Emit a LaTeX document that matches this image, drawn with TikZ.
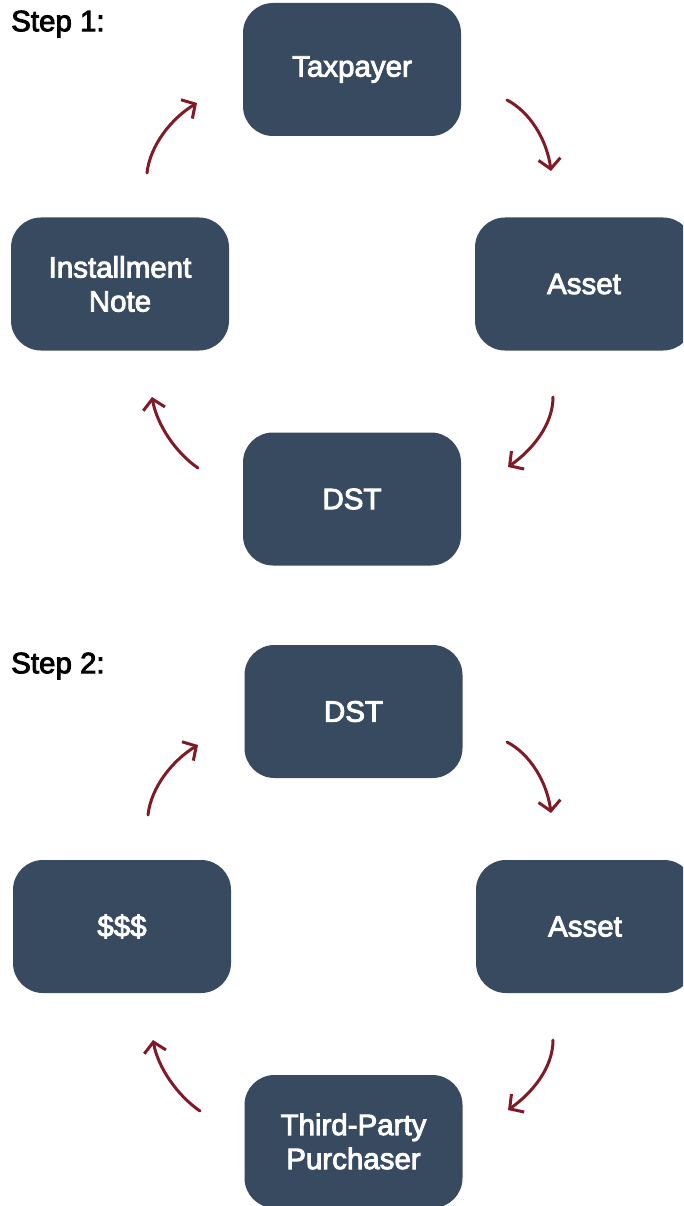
\documentclass[tikz,border=0pt]{standalone}
\usepackage{fontspec}
\setmainfont{Liberation Sans}
\newfontfamily\mediumfont{Liberation Sans}[FakeBold=3]
\usetikzlibrary{arrows.meta}
\definecolor{boxblue}{RGB}{56,74,96}
\definecolor{flowred}{RGB}{128,26,36}
\tikzset{
  stagebox/.style={fill=boxblue, rounded corners=30pt, minimum width=218pt,
    minimum height=133pt, text=white, align=center, inner sep=0pt,
    font=\mediumfont\fontsize{29.5}{34}\selectfont},
  steplabel/.style={anchor=west, inner sep=0pt, font=\mediumfont\fontsize{29.5}{32}\selectfont},
  flow/.style={draw=flowred, line width=3pt, line cap=round,
    -{Straight Barb[length=10pt,width=22pt,line width=3pt]}}
}
\begin{document}
\begin{tikzpicture}[x=1pt,y=-1pt]
\useasboundingbox (0,0) rectangle (683,1206);
\clip (0,0) rectangle (683,1206);

% ---- Step 1 ----
\node[steplabel] (s1) at (11,24) {Step 1:};
\node[stagebox] (tax) at (352,69.5) {Taxpayer};
\node[stagebox] (asset1) at (584,284) {Asset};
\node[stagebox] (note) at (120,284) {Installment\\Note};
\node[stagebox] (dst1) at (352,499) {DST};

\coordinate (a1s) at (507,100);  \coordinate (a1e) at (551,171);
\coordinate (b1s) at (553,397);  \coordinate (b1e) at (508,467);
\coordinate (c1s) at (198,468);  \coordinate (c1e) at (152,397);
\coordinate (d1s) at (147,173);  \coordinate (d1e) at (197,103);

\draw[flow] (a1s) .. controls (530,112) and (547,140) .. (a1e);
\draw[flow] (b1s) .. controls (553,425) and (532,450) .. (b1e);
\draw[flow] (c1s) .. controls (176,453) and (157,425) .. (c1e);
\draw[flow] (d1s) .. controls (150,145) and (172,118) .. (d1e);

% ---- Step 2 ----
\node[steplabel] (s2) at (11,666) {Step 2:};
\node[stagebox] (dst2) at (353.5,711.5) {DST};
\node[stagebox] (asset2) at (585,926.5) {Asset};
\node[stagebox] (cash) at (122,926.5) {\$\$\$};
\node[stagebox] (buyer) at (353.5,1141.5) {Third-Party\\Purchaser};

\coordinate (a2s) at (507,742);  \coordinate (a2e) at (551,813);
\coordinate (b2s) at (553,1040); \coordinate (b2e) at (508,1110);
\coordinate (c2s) at (200,1111); \coordinate (c2e) at (153,1040);
\coordinate (d2s) at (148,815);  \coordinate (d2e) at (198,745);

\draw[flow] (a2s) .. controls (530,754) and (547,782) .. (a2e);
\draw[flow] (b2s) .. controls (553,1068) and (532,1093) .. (b2e);
\draw[flow] (c2s) .. controls (178,1096) and (158,1068) .. (c2e);
\draw[flow] (d2s) .. controls (151,787) and (173,760) .. (d2e);
\end{tikzpicture}
\end{document}
